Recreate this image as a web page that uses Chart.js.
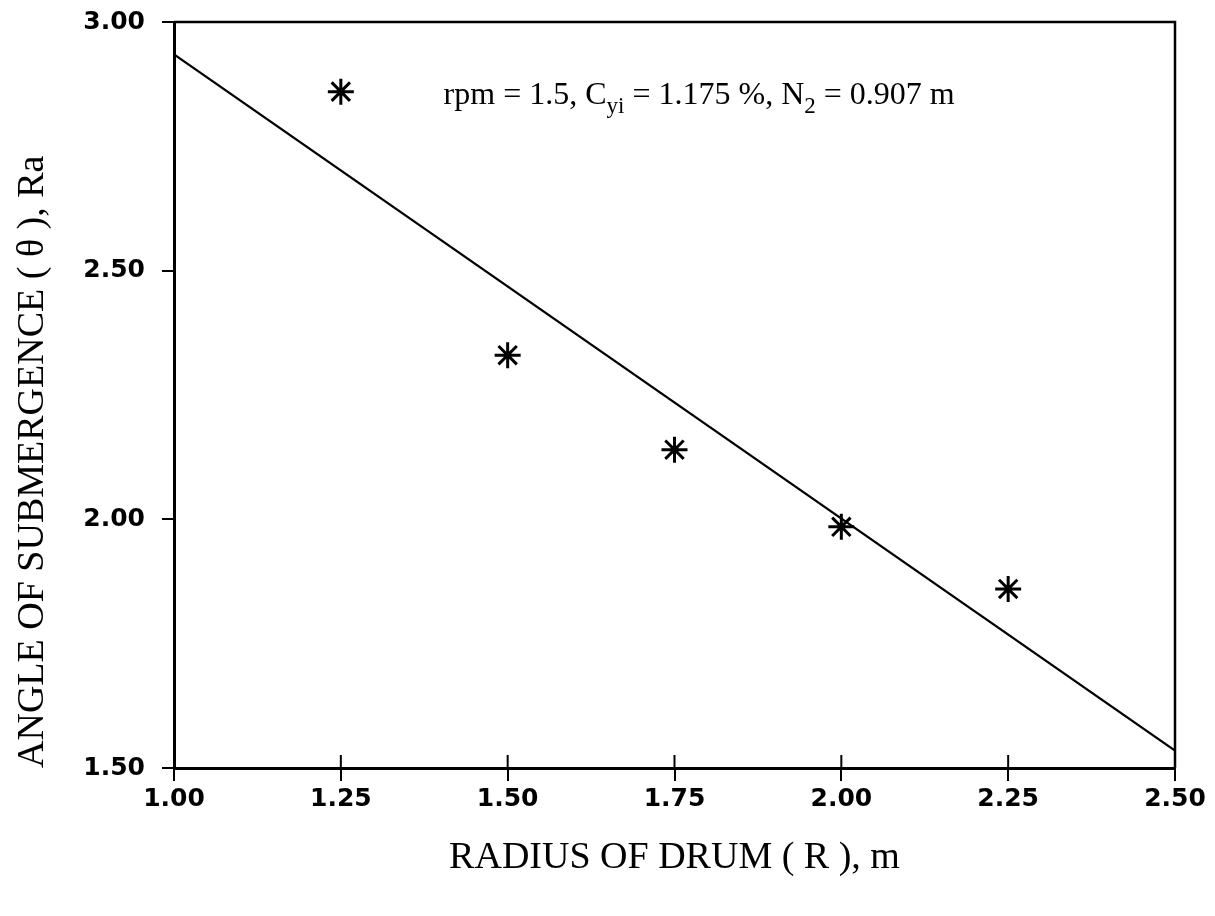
<!DOCTYPE html>
<html>
<head>
<meta charset="utf-8">
<script src="https://cdn.jsdelivr.net/npm/chart.js@4/dist/chart.umd.min.js"></script>
<style>
  html, body { margin: 0; padding: 0; background: #fff; }
  canvas { display: block; }
</style>
</head>
<body>
<canvas id="c" width="1215" height="916"></canvas>
<script>
/* ====== data ====== */
const radius = [1.25, 1.50, 1.75, 2.00, 2.25];       // R, m
const angle = [2.86, 2.33, 2.14, 1.985, 1.86];       // theta, Ra
const fitX = [1.00, 2.50];                           // regression line ends
const fitY = [2.935, 1.535];
const xTicks = [1.00, 1.25, 1.50, 1.75, 2.00, 2.25, 2.50];
const yTicks = [1.50, 2.00, 2.50, 3.00];

const INK = "#000";

/* frame on top/right + inward halves of the x ticks */
const framePlugin = {
  id: "frame",
  afterDraw(chart) {
    const { ctx, chartArea: a, scales } = chart;
    ctx.save();
    ctx.strokeStyle = INK;
    ctx.lineWidth = 2.5;
    ctx.beginPath();
    ctx.moveTo(a.left, a.top);
    ctx.lineTo(a.right, a.top);
    ctx.lineTo(a.right, a.bottom);
    ctx.stroke();
    ctx.lineWidth = 2;
    xTicks.forEach(v => {
      const px = scales.x.getPixelForValue(v);
      ctx.beginPath();
      ctx.moveTo(px, a.bottom);
      ctx.lineTo(px, a.bottom - 13);
      ctx.stroke();
    });
    ctx.restore();
  }
};

/* run label with subscripts */
const notePlugin = {
  id: "note",
  afterDraw(chart) {
    const { ctx, scales } = chart;
    const x0 = scales.x.getPixelForValue(1.404);
    const y0 = scales.y.getPixelForValue(2.835);
    const big = "32px 'Liberation Serif', 'Times New Roman', serif";
    const small = "23px 'Liberation Serif', 'Times New Roman', serif";
    const parts = [
      ["rpm = 1.5, C", big, 0],
      ["yi", small, 9],
      [" = 1.175 %, N", big, 0],
      ["2", small, 9],
      [" = 0.907 m", big, 0]
    ];
    ctx.save();
    ctx.fillStyle = INK;
    ctx.textBaseline = "alphabetic";
    ctx.textAlign = "left";
    let x = x0;
    parts.forEach(([t, f, dy]) => {
      ctx.font = f;
      ctx.fillText(t, x, y0 + dy);
      x += ctx.measureText(t).width;
    });
    ctx.restore();
  }
};

const tickFont = { family: "'DejaVu Sans', sans-serif", size: 25, weight: "bold" };
const titleFont = { family: "'Liberation Serif', 'Times New Roman', serif", size: 38 };

new Chart(document.getElementById("c"), {
  type: "scatter",
  data: {
    datasets: [
      {
        label: "measured",
        data: radius.map((r, i) => ({ x: r, y: angle[i] })),
        pointStyle: "star",
        pointRadius: 13,
        pointBorderWidth: 3,
        borderColor: INK,
        backgroundColor: INK
      },
      {
        type: "line",
        label: "fit",
        data: fitX.map((r, i) => ({ x: r, y: fitY[i] })),
        borderColor: INK,
        borderWidth: 2.2,
        pointRadius: 0,
        fill: false
      }
    ]
  },
  options: {
    responsive: false,
    animation: false,
    layout: { padding: { top: 22, right: 40, left: 0, bottom: 0 } },
    plugins: { legend: { display: false }, tooltip: { enabled: false } },
    scales: {
      x: {
        type: "linear",
        min: 1.0, max: 2.5,
        afterBuildTicks: s => { s.ticks = xTicks.map(v => ({ value: v })); },
        afterFit: s => { s.height = 148; s.paddingLeft = 0; s.paddingRight = 0; },
        border: { display: true, color: INK, width: 3 },
        grid: { drawOnChartArea: false, drawTicks: true, tickLength: 13, color: INK, lineWidth: 2 },
        ticks: { color: INK, font: tickFont, padding: 3, maxRotation: 0,
                 callback: v => Number(v).toFixed(2) },
        title: { display: true, text: "RADIUS OF DRUM ( R ), m", color: INK, font: titleFont,
                 padding: { top: 0, bottom: 35 } }
      },
      y: {
        type: "linear",
        min: 1.5, max: 3.0,
        afterBuildTicks: s => { s.ticks = yTicks.map(v => ({ value: v })); },
        afterFit: s => { s.width = 174; s.paddingTop = 0; s.paddingBottom = 0; },
        border: { display: true, color: INK, width: 3 },
        grid: { drawOnChartArea: false, drawTicks: true, tickLength: 12, color: INK, lineWidth: 2 },
        ticks: { color: INK, font: tickFont, padding: 17,
                 callback: v => Number(v).toFixed(2) },
        title: { display: true, text: "ANGLE OF SUBMERGENCE ( θ ), Ra", color: INK, font: titleFont,
                 align: "start", padding: { top: 10, bottom: 0 } }
      }
    }
  },
  plugins: [framePlugin, notePlugin]
});
</script>
</body>
</html>
